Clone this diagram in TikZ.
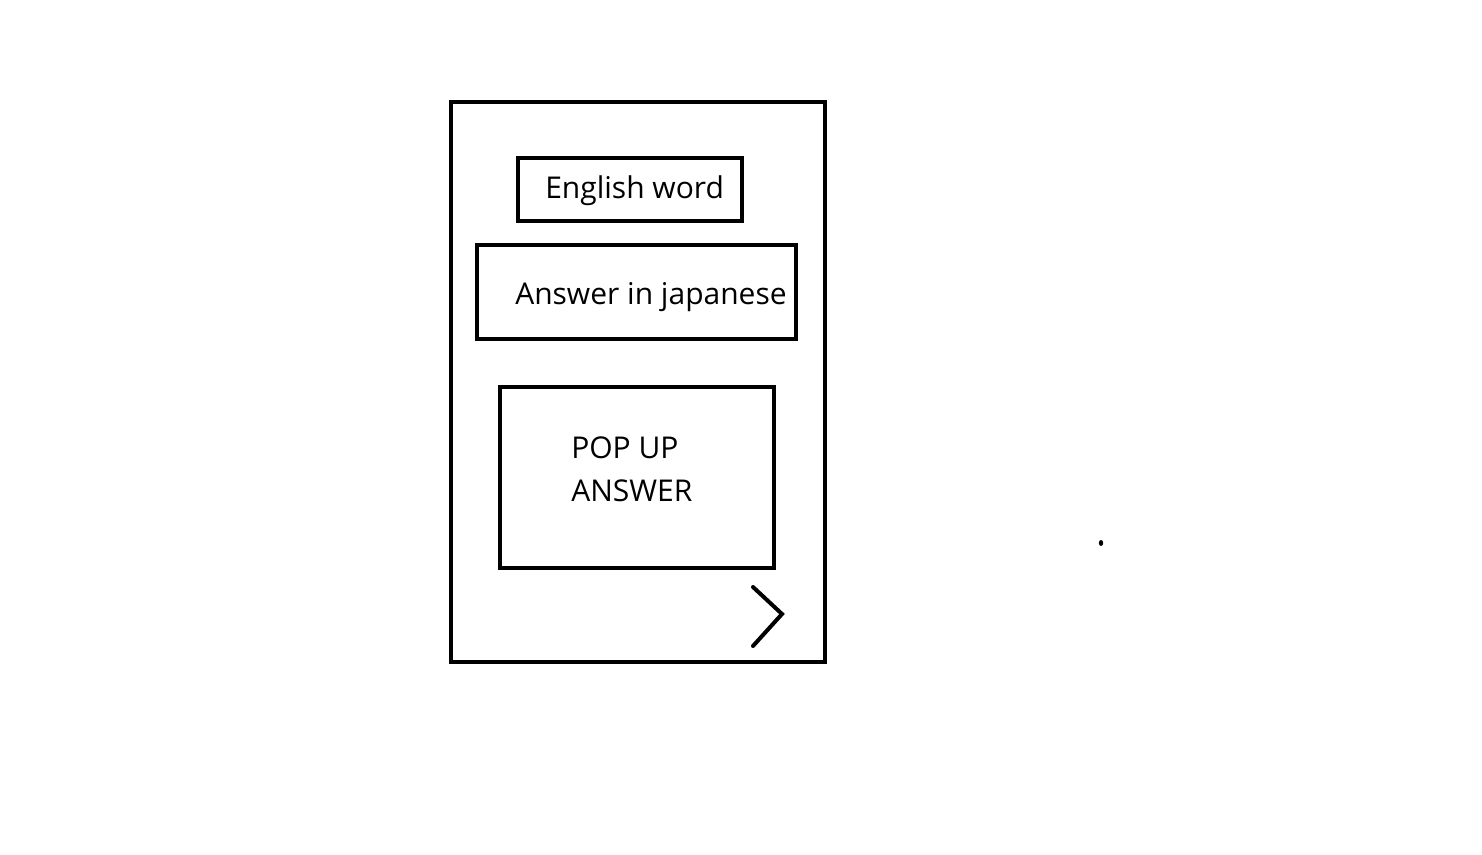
\documentclass[tikz,border=0pt]{standalone}
\usepackage{fontspec}
\setmainfont{Open Sans}
\usetikzlibrary{positioning}

\begin{document}
\begin{tikzpicture}[x=0.75pt,y=0.75pt,yscale=-1,xscale=1]
\tikzset{frame/.style={draw,line width=3.7pt,inner sep=0pt},
  lbl/.style={anchor=base west,inner sep=0pt,font=\fontsize{22.5}{32}\selectfont}}
%set diagram size to 1482 x 854
\useasboundingbox (0,0) rectangle (1482,854);

%Shape: Phone screen
\node [frame,minimum width=280.5pt,minimum height=420pt] (phone) at (638,382) {};
%Shape: English word box
\node [frame,minimum width=168pt,minimum height=47.25pt] (wordbox) at (630,189.5) {};
%Shape: Answer box
\node [frame,minimum width=239.25pt,minimum height=70.5pt] (answerbox) at (636.5,292) {};
%Shape: Pop up box
\node [frame,minimum width=205.5pt,minimum height=135.75pt] (popupbox) at (637,477.5) {};

%Next arrow
\draw [line width=3pt,line cap=round] (753,587) -- (782,614) -- (753,646);
%Dot
\fill (1101,543) ellipse (2.2 and 3);

% Text Node
\node [lbl] (word) at (545,198) {English word};
% Text Node
\node [lbl] (answer) at (515,304) {Answer in japanese};
% Text Node
\node [lbl] (pop) at (571,458) {POP UP};
% Text Node
\node [lbl] (ans) at (571,501) {ANSWER};

\end{tikzpicture}
\end{document}
